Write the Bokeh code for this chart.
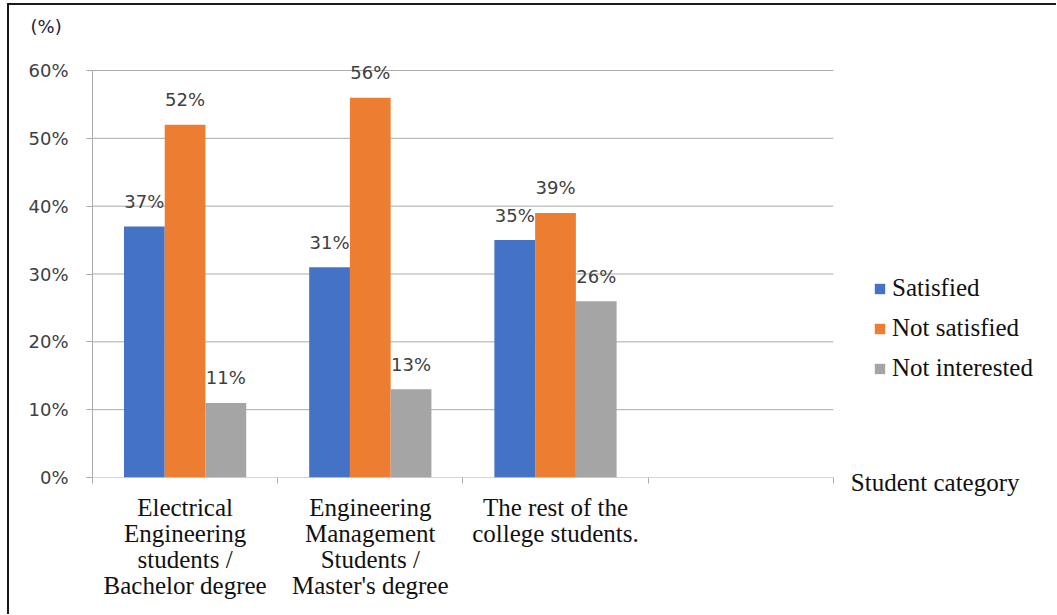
from bokeh.plotting import figure
from bokeh.models import Range1d, FixedTicker, Legend, LegendItem, ColumnDataSource
from bokeh.core.properties import value
from bokeh.embed import file_html
from bokeh.resources import INLINE

categories = ["Electrical\nEngineering\nstudents /\nBachelor degree",
              "Engineering\nManagement\nStudents /\nMaster's degree",
              "The rest of the\ncollege students."]
series = ["Satisfied", "Not satisfied", "Not interested"]
satisfied = [0.37, 0.31, 0.35]
not_satisfied = [0.52, 0.56, 0.39]
not_interested = [0.11, 0.13, 0.26]
y_ticks = [0, 0.1, 0.2, 0.3, 0.4, 0.5, 0.6]
y_tick_labels = ["0%", "10%", "20%", "30%", "40%", "50%", "60%"]
x_title = "Student category"
y_title = "(%)"
colors = ["#4472C4", "#ED7D31", "#A5A5A5"]

n_slots = 4          # three groups plus an empty slot
right_room = 1.216   # extra x-room (in slot units) for legend and axis title
x_title_pos = 4.55   # centre of the x-axis title, in slot units
y_max = 0.6
y_headroom = y_max * (477 - 44) / 407   # room above 60% for the data labels
centers = [i + 0.5 for i in range(len(categories))]

p = figure(width=1049, height=611, output_backend="svg", toolbar_location=None,
           x_range=Range1d(0, n_slots + right_room), y_range=Range1d(0, y_headroom),
           min_border_left=83, min_border_top=39, min_border_right=0, min_border_bottom=139)
p.styles = {"margin-left": "7px", "margin-top": "3px",
            "border-top": "2px solid #1a1a1a", "border-left": "2px solid #1a1a1a"}
p.outline_line_color = None
p.background_fill_color = "white"
p.border_fill_color = "white"

sans = "DejaVu Sans"
serif = "Liberation Serif"
grid_col = "#ababab"

# "(%)" as a left-aligned title pulled left of the frame
p.title.text = y_title
p.title.text_font = sans
p.title.text_font_size = "18px"
p.title.text_font_style = "normal"
p.title.text_color = "#22223a"
p.title.align = "left"
p.title.offset = -62
p.title.vertical_align = "top"
p.title.standoff = 12

# y axis
p.yaxis.ticker = FixedTicker(ticks=y_ticks)
p.yaxis.bounds = (0, y_max)
p.yaxis.major_label_overrides = {t: l for t, l in zip(y_ticks, y_tick_labels)}
p.yaxis.major_label_text_font = sans
p.yaxis.major_label_text_font_size = "18px"
p.yaxis.major_label_text_color = "#404040"
p.yaxis.axis_line_color = grid_col
p.yaxis.major_tick_line_color = grid_col
p.yaxis.major_tick_out = 6
p.yaxis.major_tick_in = 0
p.yaxis.minor_tick_line_color = None
p.yaxis.major_label_standoff = 18

# x axis: category labels at group centres, the axis title as an extra label,
# tick marks at slot boundaries
label_ticks = centers + [x_title_pos]
label_texts = ["\n" + c for c in categories] + [x_title]
p.xaxis.ticker = FixedTicker(ticks=label_ticks, minor_ticks=list(range(n_slots + 1)))
p.xaxis.major_label_overrides = {t: l for t, l in zip(label_ticks, label_texts)}
p.xaxis.major_label_text_font = serif
p.xaxis.major_label_text_font_size = "25px"
p.xaxis.major_label_text_line_height = 0.96
p.xaxis.major_label_text_color = "#111111"
p.xaxis.major_tick_line_color = None
p.xaxis.major_tick_out = 0
p.xaxis.major_tick_in = 0
p.xaxis.minor_tick_line_color = grid_col
p.xaxis.minor_tick_out = 6
p.xaxis.minor_tick_in = 0
p.xaxis.axis_line_color = None
p.xaxis.major_label_standoff = -15

p.xgrid.grid_line_color = None
p.ygrid.grid_line_color = None

# horizontal grid lines spanning only the category slots (the 0 line is the x axis line)
p.segment(x0=[0] * len(y_ticks), x1=[n_slots] * len(y_ticks), y0=y_ticks, y1=y_ticks,
          line_color=grid_col, line_width=1)

bar_w = 0.22
offsets = [-0.22, 0.0, 0.22]
renderers = []
for vals, off, col in zip([satisfied, not_satisfied, not_interested], offsets, colors):
    xs = [c + off for c in centers]
    src = ColumnDataSource(dict(x=xs, top=vals, lab=[f"{round(v*100)}%" for v in vals]))
    r = p.vbar(x="x", top="top", width=bar_w, bottom=0, source=src, fill_color=col, line_color=None)
    renderers.append(r)
    p.text(x="x", y="top", text="lab", source=src, text_align="center", text_baseline="alphabetic",
           y_offset=-25, text_font=value(sans), text_font_size="18px", text_color="#404040")

legend = Legend(items=[LegendItem(label=s, renderers=[r]) for s, r in zip(series, renderers)],
                location=(781, 95), orientation="vertical",
                label_text_font=serif, label_text_font_size="25px", label_text_color="#111111",
                glyph_width=13, glyph_height=13, label_height=27, spacing=12, padding=0,
                label_standoff=6, border_line_color=None, background_fill_alpha=0)
p.add_layout(legend)

open("out.html", "w").write(file_html(p, INLINE))
